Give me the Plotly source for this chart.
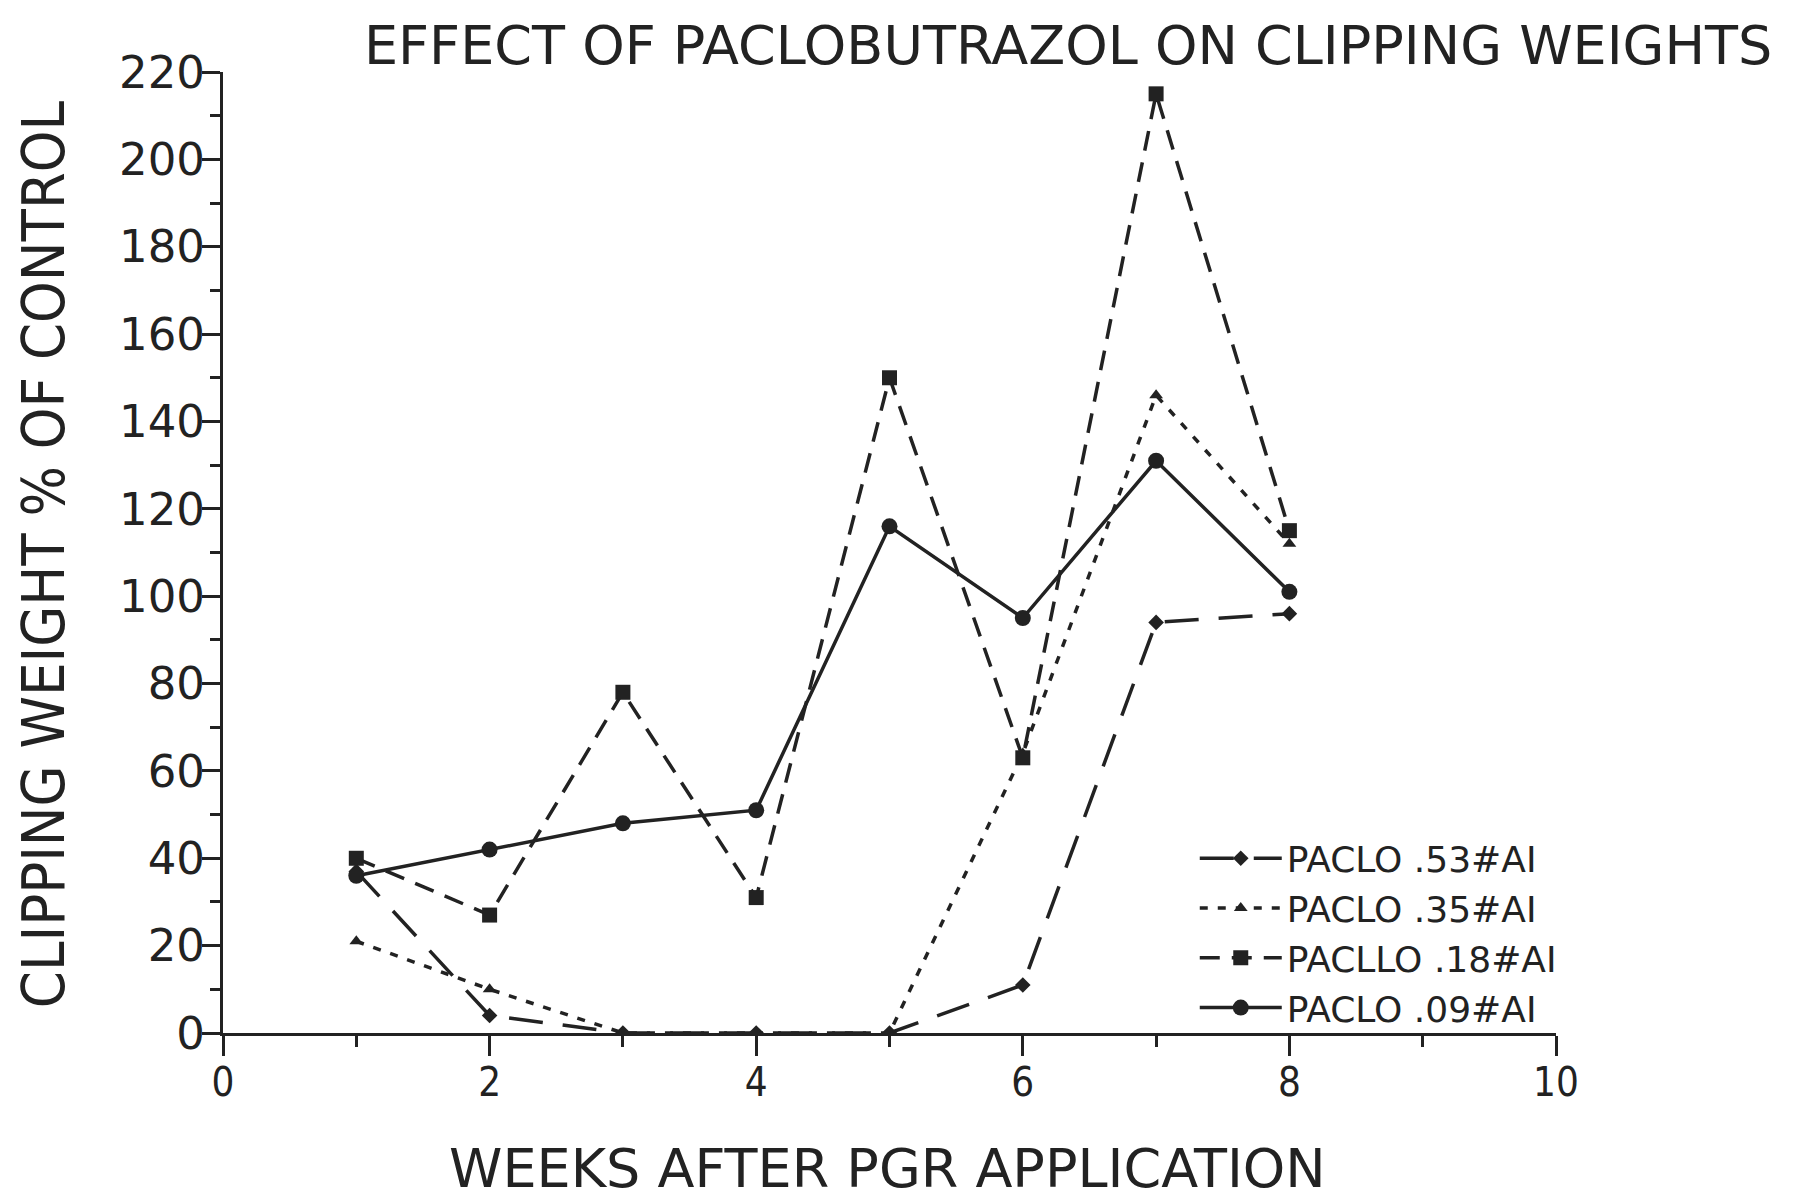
import plotly.graph_objects as go

weeks = [1, 2, 3, 4, 5, 6, 7, 8]
paclo_53 = [37, 4, 0, 0, 0, 11, 94, 96]
paclo_35 = [21, 10, 0, 0, 0, 64, 146, 112]
paclo_18 = [40, 27, 78, 31, 150, 63, 215, 115]
paclo_09 = [36, 42, 48, 51, 116, 95, 131, 101]

names = ["PACLO .53#AI", "PACLO .35#AI", "PACLLO .18#AI", "PACLO .09#AI"]
series = [paclo_53, paclo_35, paclo_18, paclo_09]
symbols = ["diamond", "triangle-up", "square", "circle"]
sizes = [12, 12, 15, 16]
dashes = ["34px,20px", "8px,10px", "20px,12px", "solid"]

INK = "#222222"
fig = go.Figure()
for name, ys, sym, sz, dsh in zip(names, series, symbols, sizes, dashes):
    fig.add_trace(go.Scatter(
        x=weeks, y=ys, name=name, mode="lines+markers",
        line=dict(color=INK, width=3.5, dash=dsh),
        marker=dict(symbol=sym, size=sz, color=INK),
    ))

narrow = "DejaVu Sans Condensed, Liberation Sans Narrow, sans-serif"
wide = "DejaVu Sans, sans-serif"

fig.update_layout(
    width=1798, height=1197,
    paper_bgcolor="white", plot_bgcolor="white",
    margin=dict(l=215, r=250, t=64, b=172),
    showlegend=True,
    legend=dict(
        x=0.729, y=0.213, xanchor="left", yanchor="top",
        font=dict(family=wide, size=36, color=INK),
        bgcolor="rgba(0,0,0,0)", tracegroupgap=0, itemwidth=82,
    ),
    title=dict(
        text="EFFECT OF PACLOBUTRAZOL ON CLIPPING WEIGHTS",
        x=0.634, xanchor="center", y=0.969, yanchor="middle",
        xref="paper", yref="container",
        font=dict(family=wide, size=54, color=INK),
    ),
    xaxis=dict(
        range=[0, 10], tickmode="linear", tick0=0, dtick=2,
        showline=True, linecolor=INK, linewidth=3,
        ticks="outside", ticklen=20, tickwidth=3, tickcolor=INK,
        minor=dict(dtick=1, ticks="outside", ticklen=11, tickwidth=3, tickcolor=INK),
        showgrid=False, zeroline=False, ticklabelstandoff=-8,
        tickfont=dict(family=narrow, size=40, color=INK),
    ),
    yaxis=dict(
        range=[0, 220], tickmode="linear", tick0=0, dtick=20,
        showline=True, linecolor=INK, linewidth=3,
        ticks="outside", ticklen=18, tickwidth=3, tickcolor=INK,
        minor=dict(dtick=10, ticks="outside", ticklen=10, tickwidth=3, tickcolor=INK),
        showgrid=False, zeroline=False, ticklabelstandoff=-12,
        tickfont=dict(family=wide, size=45, color=INK),
    ),
)

fig.add_annotation(
    text="WEEKS AFTER PGR APPLICATION", xref="paper", yref="paper",
    x=0.4985, y=-0.106, xanchor="center", yanchor="top", showarrow=False,
    font=dict(family=wide, size=54, color=INK),
)
fig.add_annotation(
    text="CLIPPING WEIGHT % OF CONTROL", xref="paper", yref="paper",
    x=-0.1345, y=0.498, xanchor="center", yanchor="middle", textangle=-90,
    showarrow=False, font=dict(family=narrow, size=59, color=INK),
)

fig.write_html("out.html")
